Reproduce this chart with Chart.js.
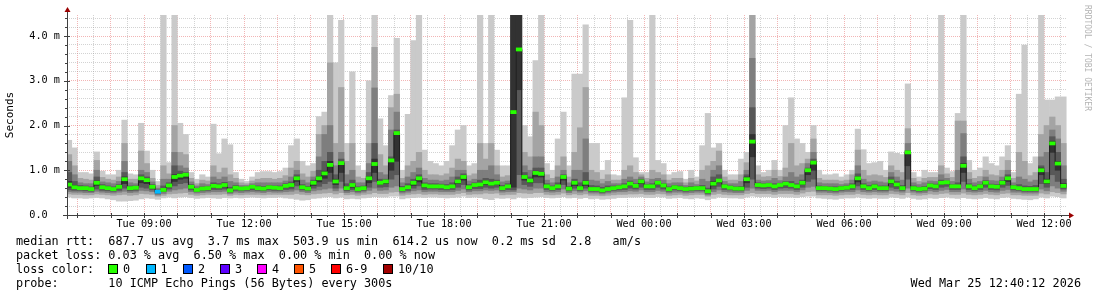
<!DOCTYPE html>
<html><head><meta charset="utf-8">
<script src="https://cdn.jsdelivr.net/npm/chart.js@4.4.1/dist/chart.umd.min.js"></script>
<style>
html,body{margin:0;padding:0;background:#fff;}
#wrap{position:relative;width:1097px;height:297px;overflow:hidden;background:#fff;}
#c{position:absolute;left:0;top:0;}
.lg{position:absolute;font-family:'DejaVu Sans Mono',monospace;font-size:11.8px;line-height:14px;white-space:pre;color:#000;}
.box{position:absolute;width:8px;height:8px;border:1px solid #000;top:264px;}
</style>
</head><body>
<div id="wrap">
<canvas id="c" width="1097" height="297"></canvas>
</div>
<script>
// time grid: first step centred at Tue 06:45, 10-minute steps (hours since Tue 00:00)
const t0 = 6.75;
const stepH = 1/6;

// median RTT (ms)
const median = [
0.68,0.62,0.60,0.60,0.58,0.72,0.62,0.60,0.58,0.63,
0.80,0.60,0.61,0.82,0.78,0.63,0.52,0.56,0.66,0.85,
0.88,0.90,0.63,0.56,0.59,0.60,0.65,0.64,0.67,0.55,
0.61,0.59,0.60,0.63,0.60,0.59,0.62,0.61,0.60,0.65,
0.67,0.82,0.62,0.59,0.72,0.82,0.93,1.12,0.75,1.16,
0.60,0.67,0.58,0.60,0.82,1.14,0.72,0.75,1.22,1.83,
0.58,0.62,0.72,0.82,0.66,0.64,0.64,0.64,0.62,0.64,
0.75,0.85,0.62,0.67,0.68,0.73,0.70,0.72,0.60,0.64,
2.30,3.70,0.85,0.77,0.94,0.92,0.64,0.60,0.64,0.85,
0.59,0.72,0.60,0.72,0.58,0.58,0.55,0.58,0.60,0.62,
0.64,0.70,0.65,0.75,0.64,0.64,0.72,0.66,0.58,0.62,
0.60,0.58,0.59,0.60,0.60,0.53,0.70,0.77,0.64,0.61,
0.59,0.59,0.80,1.64,0.67,0.66,0.67,0.64,0.67,0.70,
0.67,0.64,0.72,1.00,1.17,0.60,0.60,0.59,0.58,0.60,
0.61,0.64,0.82,0.64,0.60,0.64,0.60,0.60,0.75,0.68,
0.60,1.40,0.60,0.58,0.59,0.66,0.64,0.72,0.73,0.64,
0.64,1.10,0.64,0.60,0.64,0.72,0.64,0.63,0.72,0.82,
0.62,0.60,0.58,0.58,0.58,1.00,0.75,1.60,1.15,0.65];

// sorted pings per step (ms): ping10 = slowest ... ping1 = fastest
const ping10 = [
1.67,1.50,0.95,0.95,0.92,1.41,0.98,0.90,0.90,1.00,
2.12,0.92,0.90,2.05,1.43,1.00,0.75,4.60,1.17,4.60,
2.05,1.80,0.95,0.80,0.90,0.85,2.03,1.37,1.70,1.57,
0.95,0.80,0.75,0.85,0.95,0.97,0.97,0.95,0.97,1.05,
1.55,1.70,1.20,1.10,1.15,2.20,2.30,4.60,3.40,4.35,
1.60,3.20,1.10,1.00,3.00,4.60,2.15,1.55,2.67,3.95,
1.00,2.25,3.90,4.60,1.45,1.20,1.15,1.10,1.20,1.55,
1.90,2.00,1.10,1.15,4.60,1.60,4.60,1.45,1.10,1.10,
4.60,4.60,2.00,1.75,3.45,4.60,1.15,1.00,1.70,2.30,
1.10,3.15,3.15,4.25,1.60,1.60,1.00,1.22,0.90,0.88,
2.62,4.35,1.28,0.95,0.95,4.60,1.22,1.15,0.90,0.95,
0.97,0.80,1.00,0.85,1.55,2.27,1.50,1.60,1.00,0.90,
0.90,1.25,1.40,4.60,1.10,0.95,1.00,1.22,1.00,2.00,
2.62,1.70,1.60,1.40,2.00,1.00,0.90,0.90,0.92,0.85,
0.90,1.00,1.92,1.46,1.15,1.17,1.20,1.00,1.41,1.38,
1.35,2.93,0.95,0.85,1.00,0.95,0.95,4.60,1.05,0.97,
2.27,4.60,1.22,1.00,1.05,1.30,1.15,1.10,1.30,1.55,
0.95,2.70,3.80,1.15,1.30,4.60,2.57,2.57,2.64,2.64];
const ping9 = [
1.35,1.10,0.82,0.80,0.78,1.22,0.84,0.80,0.78,0.85,
1.60,0.80,0.80,1.43,1.15,0.82,0.66,1.10,0.92,2.00,
1.40,1.35,0.82,0.70,0.78,0.76,1.10,0.95,1.05,0.90,
0.82,0.72,0.70,0.76,0.80,0.82,0.82,0.80,0.82,0.88,
1.05,1.20,0.92,0.85,0.98,1.80,2.00,3.40,1.60,2.85,
1.20,1.60,0.85,0.82,1.60,3.75,1.35,1.10,2.40,2.70,
0.82,1.10,1.20,1.40,1.00,0.90,0.90,0.88,0.92,1.05,
1.25,1.20,0.88,0.92,1.60,1.25,1.60,1.10,0.85,0.88,
4.60,4.60,1.40,1.30,2.30,2.00,0.90,0.82,1.10,1.30,
0.85,1.40,1.95,2.85,1.00,0.95,0.80,0.90,0.78,0.78,
1.00,1.10,0.95,0.90,0.82,1.00,0.95,0.90,0.78,0.82,
0.82,0.72,0.82,0.76,1.00,1.10,1.20,1.43,0.85,0.78,
0.78,0.90,1.17,4.60,0.90,0.85,0.86,1.00,0.86,1.05,
1.60,1.10,1.15,1.25,1.70,0.82,0.78,0.78,0.78,0.76,
0.78,0.90,1.45,1.00,0.88,0.90,0.88,0.84,1.10,1.00,
0.95,1.93,0.82,0.75,0.82,0.84,0.84,1.10,0.92,0.84,
2.10,2.10,0.95,0.82,0.86,1.00,0.90,0.88,1.00,1.22,
0.82,1.40,1.20,0.88,0.95,1.80,2.00,2.19,2.00,1.60];
const ping8 = [
1.20,0.90,0.72,0.70,0.70,1.00,0.74,0.72,0.70,0.75,
1.20,0.72,0.70,1.00,0.95,0.74,0.60,0.80,0.80,1.40,
1.10,1.05,0.74,0.65,0.70,0.68,0.85,0.80,0.85,0.75,
0.72,0.66,0.66,0.70,0.72,0.72,0.72,0.72,0.72,0.76,
0.85,1.00,0.78,0.72,0.85,1.30,1.80,2.00,1.10,1.40,
0.90,1.00,0.72,0.72,1.15,2.84,0.95,0.90,1.90,2.30,
0.72,0.85,0.95,1.05,0.82,0.78,0.78,0.76,0.78,0.85,
1.00,1.00,0.76,0.80,1.00,1.00,1.10,0.90,0.74,0.76,
4.60,4.60,1.10,1.00,1.30,1.30,0.78,0.72,0.85,1.00,
0.72,1.00,1.00,1.70,0.78,0.76,0.70,0.75,0.70,0.70,
0.80,0.85,0.80,0.85,0.74,0.80,0.82,0.78,0.70,0.72,
0.72,0.66,0.72,0.68,0.80,0.75,1.00,1.10,0.75,0.70,
0.70,0.75,1.00,3.50,0.78,0.76,0.77,0.82,0.77,0.85,
0.95,0.85,0.90,1.15,1.40,0.72,0.70,0.70,0.70,0.68,
0.70,0.78,1.10,0.80,0.74,0.76,0.74,0.72,0.95,0.85,
0.78,1.60,0.72,0.68,0.72,0.76,0.75,0.90,0.82,0.75,
1.00,1.82,0.80,0.72,0.75,0.85,0.77,0.76,0.85,1.00,
0.72,0.85,0.80,0.74,0.78,1.30,1.40,1.90,1.70,1.10];
const ping7 = [
0.95,0.75,0.66,0.65,0.63,0.85,0.68,0.65,0.63,0.68,
0.95,0.65,0.65,0.90,0.85,0.68,0.56,0.65,0.72,1.10,
0.98,0.95,0.68,0.60,0.63,0.63,0.72,0.70,0.73,0.62,
0.66,0.62,0.62,0.66,0.65,0.64,0.66,0.65,0.65,0.70,
0.74,0.90,0.68,0.64,0.78,1.00,1.20,1.40,0.90,1.25,
0.70,0.78,0.63,0.65,0.95,1.60,0.80,0.80,1.30,1.90,
0.64,0.70,0.80,0.90,0.72,0.70,0.70,0.69,0.68,0.72,
0.85,0.92,0.68,0.72,0.78,0.82,0.80,0.78,0.66,0.70,
4.60,4.60,0.95,0.85,1.05,1.05,0.70,0.65,0.72,0.90,
0.64,0.80,0.72,0.95,0.66,0.65,0.62,0.65,0.65,0.66,
0.70,0.76,0.70,0.80,0.68,0.70,0.76,0.70,0.63,0.66,
0.65,0.62,0.64,0.64,0.66,0.60,0.85,0.90,0.68,0.65,
0.63,0.64,0.90,2.40,0.72,0.70,0.71,0.70,0.71,0.75,
0.75,0.70,0.78,1.05,1.25,0.65,0.64,0.63,0.63,0.64,
0.65,0.70,0.92,0.70,0.66,0.69,0.65,0.65,0.85,0.75,
0.66,1.44,0.65,0.62,0.64,0.70,0.69,0.78,0.76,0.68,
0.72,1.30,0.70,0.65,0.68,0.77,0.69,0.68,0.77,0.90,
0.66,0.68,0.65,0.64,0.66,1.10,0.95,1.75,1.40,0.80];
const ping6 = [
0.75,0.66,0.62,0.62,0.60,0.76,0.64,0.62,0.60,0.65,
0.85,0.62,0.63,0.85,0.80,0.65,0.54,0.58,0.68,0.90,
0.92,0.92,0.65,0.58,0.61,0.62,0.67,0.66,0.69,0.57,
0.63,0.60,0.61,0.64,0.62,0.61,0.63,0.62,0.62,0.67,
0.69,0.85,0.64,0.61,0.74,0.86,0.98,1.20,0.80,1.18,
0.63,0.70,0.60,0.62,0.86,1.25,0.75,0.77,1.25,1.85,
0.60,0.64,0.75,0.85,0.68,0.66,0.66,0.66,0.64,0.66,
0.78,0.88,0.64,0.69,0.70,0.76,0.72,0.74,0.62,0.66,
4.60,4.60,0.88,0.80,0.98,0.95,0.66,0.62,0.66,0.87,
0.61,0.75,0.63,0.76,0.60,0.60,0.57,0.60,0.62,0.63,
0.66,0.72,0.67,0.77,0.66,0.66,0.74,0.68,0.60,0.64,
0.62,0.60,0.61,0.62,0.62,0.55,0.75,0.80,0.66,0.63,
0.61,0.61,0.85,1.80,0.69,0.68,0.69,0.66,0.69,0.72,
0.69,0.66,0.74,1.02,1.20,0.62,0.62,0.61,0.60,0.62,
0.63,0.66,0.86,0.66,0.62,0.66,0.62,0.62,0.78,0.70,
0.62,1.42,0.62,0.60,0.61,0.68,0.66,0.74,0.75,0.66,
0.66,1.15,0.66,0.62,0.66,0.74,0.66,0.65,0.74,0.85,
0.64,0.62,0.60,0.60,0.60,1.05,0.80,1.65,1.20,0.70];
const ping5 = [
0.62,0.59,0.58,0.58,0.56,0.66,0.60,0.58,0.56,0.60,
0.70,0.58,0.59,0.72,0.70,0.60,0.50,0.54,0.63,0.75,
0.80,0.82,0.60,0.54,0.57,0.58,0.62,0.61,0.63,0.53,
0.59,0.57,0.58,0.60,0.58,0.57,0.60,0.59,0.58,0.62,
0.63,0.75,0.60,0.57,0.66,0.74,0.82,0.95,0.68,0.95,
0.57,0.62,0.56,0.58,0.72,0.95,0.68,0.70,1.00,1.20,
0.56,0.59,0.66,0.74,0.62,0.62,0.62,0.61,0.60,0.61,
0.70,0.78,0.60,0.64,0.64,0.68,0.66,0.68,0.58,0.61,
0.62,2.80,0.78,0.72,0.85,0.85,0.61,0.58,0.61,0.78,
0.57,0.66,0.58,0.66,0.56,0.56,0.53,0.56,0.58,0.60,
0.61,0.66,0.62,0.70,0.61,0.61,0.68,0.63,0.56,0.60,
0.58,0.56,0.57,0.58,0.58,0.51,0.65,0.72,0.61,0.59,
0.57,0.57,0.72,1.30,0.64,0.63,0.64,0.61,0.64,0.66,
0.64,0.61,0.68,0.90,1.00,0.58,0.58,0.57,0.56,0.58,
0.59,0.61,0.74,0.61,0.58,0.61,0.58,0.58,0.70,0.64,
0.58,1.10,0.58,0.56,0.57,0.63,0.61,0.68,0.70,0.61,
0.61,0.95,0.61,0.58,0.61,0.68,0.61,0.60,0.68,0.75,
0.60,0.58,0.56,0.56,0.56,0.90,0.70,1.40,1.00,0.62];
const ping4 = [
0.56,0.55,0.55,0.54,0.53,0.58,0.55,0.54,0.53,0.55,
0.60,0.54,0.55,0.62,0.60,0.56,0.48,0.52,0.58,0.65,
0.70,0.72,0.56,0.52,0.54,0.55,0.57,0.57,0.58,0.51,
0.55,0.54,0.55,0.56,0.55,0.54,0.56,0.55,0.55,0.57,
0.58,0.65,0.56,0.54,0.60,0.64,0.70,0.75,0.60,0.75,
0.54,0.57,0.53,0.55,0.62,0.75,0.62,0.63,0.80,0.90,
0.53,0.55,0.60,0.65,0.57,0.58,0.58,0.57,0.56,0.57,
0.62,0.68,0.56,0.59,0.59,0.62,0.60,0.62,0.55,0.57,
0.56,0.90,0.68,0.64,0.72,0.72,0.57,0.55,0.57,0.68,
0.54,0.60,0.55,0.60,0.53,0.53,0.50,0.53,0.55,0.56,
0.57,0.60,0.58,0.62,0.57,0.57,0.62,0.58,0.53,0.56,
0.55,0.53,0.54,0.55,0.55,0.48,0.58,0.64,0.57,0.56,
0.54,0.54,0.62,0.80,0.60,0.59,0.60,0.57,0.60,0.61,
0.60,0.57,0.62,0.75,0.80,0.55,0.55,0.54,0.53,0.55,
0.56,0.57,0.65,0.57,0.55,0.57,0.55,0.55,0.62,0.59,
0.55,0.80,0.55,0.53,0.54,0.59,0.57,0.62,0.64,0.57,
0.57,0.75,0.57,0.55,0.57,0.62,0.57,0.56,0.62,0.66,
0.56,0.55,0.53,0.53,0.53,0.70,0.62,0.90,0.75,0.58];
const ping3 = [
0.52,0.51,0.51,0.50,0.50,0.53,0.51,0.50,0.49,0.51,
0.53,0.50,0.51,0.55,0.54,0.52,0.45,0.48,0.53,0.56,
0.58,0.60,0.52,0.49,0.50,0.51,0.52,0.52,0.53,0.48,
0.51,0.50,0.51,0.52,0.51,0.50,0.52,0.51,0.51,0.52,
0.53,0.56,0.52,0.50,0.54,0.56,0.58,0.60,0.54,0.60,
0.50,0.52,0.49,0.51,0.55,0.60,0.55,0.56,0.62,0.65,
0.49,0.51,0.54,0.56,0.52,0.53,0.53,0.52,0.52,0.52,
0.55,0.58,0.52,0.54,0.54,0.56,0.55,0.56,0.51,0.52,
0.52,0.60,0.58,0.56,0.60,0.60,0.52,0.51,0.52,0.58,
0.50,0.54,0.51,0.54,0.49,0.49,0.47,0.49,0.51,0.52,
0.52,0.54,0.53,0.56,0.52,0.52,0.55,0.53,0.49,0.51,
0.51,0.49,0.50,0.51,0.51,0.45,0.52,0.56,0.52,0.51,
0.50,0.50,0.55,0.60,0.55,0.54,0.55,0.52,0.55,0.55,
0.55,0.52,0.56,0.62,0.64,0.51,0.51,0.50,0.49,0.51,
0.52,0.52,0.56,0.52,0.51,0.52,0.51,0.51,0.55,0.53,
0.51,0.60,0.51,0.49,0.50,0.54,0.52,0.55,0.57,0.52,
0.52,0.58,0.52,0.51,0.52,0.55,0.52,0.51,0.55,0.57,
0.51,0.51,0.49,0.49,0.49,0.58,0.54,0.65,0.60,0.53];
const ping2 = [
0.47,0.46,0.46,0.45,0.45,0.47,0.46,0.45,0.44,0.45,
0.46,0.44,0.45,0.48,0.47,0.46,0.42,0.44,0.47,0.48,
0.49,0.50,0.46,0.44,0.45,0.46,0.46,0.46,0.47,0.44,
0.46,0.45,0.46,0.46,0.46,0.45,0.46,0.46,0.46,0.46,
0.46,0.48,0.46,0.45,0.47,0.48,0.49,0.50,0.47,0.50,
0.45,0.46,0.44,0.46,0.47,0.50,0.48,0.48,0.51,0.52,
0.44,0.46,0.47,0.48,0.46,0.47,0.47,0.46,0.46,0.46,
0.48,0.50,0.46,0.47,0.47,0.49,0.48,0.49,0.45,0.46,
0.46,0.50,0.49,0.48,0.50,0.50,0.46,0.45,0.46,0.49,
0.45,0.47,0.45,0.47,0.44,0.44,0.43,0.44,0.45,0.46,
0.46,0.47,0.47,0.48,0.46,0.46,0.48,0.47,0.44,0.45,
0.46,0.44,0.45,0.46,0.46,0.42,0.46,0.48,0.46,0.45,
0.45,0.45,0.48,0.50,0.48,0.48,0.48,0.46,0.48,0.48,
0.48,0.46,0.49,0.52,0.53,0.45,0.45,0.45,0.44,0.45,
0.46,0.46,0.48,0.46,0.45,0.46,0.45,0.45,0.48,0.47,
0.45,0.50,0.45,0.44,0.45,0.47,0.46,0.48,0.49,0.46,
0.46,0.49,0.46,0.45,0.46,0.48,0.46,0.45,0.48,0.49,
0.45,0.45,0.44,0.44,0.44,0.49,0.47,0.52,0.50,0.47];
const ping1 = [
0.40,0.38,0.38,0.37,0.38,0.39,0.38,0.36,0.34,0.31,
0.31,0.32,0.33,0.36,0.38,0.37,0.35,0.38,0.40,0.38,
0.40,0.41,0.39,0.37,0.38,0.39,0.38,0.37,0.39,0.38,
0.39,0.38,0.39,0.40,0.39,0.38,0.39,0.39,0.40,0.38,
0.37,0.35,0.33,0.34,0.37,0.38,0.40,0.41,0.38,0.40,
0.36,0.37,0.36,0.38,0.39,0.41,0.40,0.40,0.42,0.42,
0.36,0.38,0.39,0.40,0.39,0.40,0.40,0.39,0.38,0.39,
0.40,0.42,0.39,0.40,0.39,0.36,0.34,0.38,0.37,0.38,
0.36,0.40,0.38,0.39,0.40,0.41,0.39,0.38,0.39,0.41,
0.38,0.39,0.37,0.39,0.36,0.37,0.35,0.36,0.37,0.39,
0.39,0.40,0.40,0.41,0.39,0.39,0.41,0.40,0.37,0.38,
0.39,0.37,0.36,0.38,0.37,0.34,0.37,0.40,0.39,0.38,
0.38,0.37,0.40,0.42,0.41,0.41,0.41,0.39,0.41,0.40,
0.40,0.39,0.41,0.42,0.42,0.38,0.37,0.36,0.35,0.37,
0.38,0.38,0.40,0.38,0.37,0.38,0.37,0.37,0.40,0.39,
0.37,0.40,0.37,0.35,0.36,0.38,0.37,0.39,0.40,0.38,
0.37,0.39,0.37,0.36,0.37,0.39,0.37,0.36,0.39,0.40,
0.37,0.36,0.35,0.34,0.36,0.40,0.38,0.42,0.41,0.38];

// lost pings per step (of 10)
const lossCount = [
0,0,0,0,0,0,0,0,0,0, 0,0,0,0,0,0,1,0,0,0,
0,0,0,0,0,0,0,0,0,0, 0,0,0,0,0,0,0,0,0,0,
0,0,0,0,0,0,0,0,0,0, 0,0,0,0,0,0,0,0,0,0,
0,0,0,0,0,0,0,0,0,0, 0,0,0,0,0,0,0,0,0,0,
0,0,0,0,0,0,0,0,0,0, 0,0,0,0,0,0,0,0,0,0,
0,0,0,0,0,0,0,0,0,0, 0,0,0,0,0,0,0,0,0,0,
0,0,0,0,0,0,0,0,0,0, 0,0,0,0,0,0,0,0,0,0,
0,0,0,0,0,0,0,0,0,0, 0,0,0,0,0,0,0,0,0,0,
0,0,0,0,0,0,0,0,0,0, 0,0,0,0,0,0,0,0,0,0];

const xTickHours = [9,12,15,18,21,24,27,30,33,36];
const xTickLabels = ['Tue 09:00','Tue 12:00','Tue 15:00','Tue 18:00','Tue 21:00','Wed 00:00','Wed 03:00','Wed 06:00','Wed 09:00','Wed 12:00'];
const yTickValues = [0,1,2,3,4];
const yTickLabels = ['0.0  ','1.0 m','2.0 m','3.0 m','4.0 m'];

const lossLegendLabels = ['0','1','2','3','4','5','6-9','10/10'];
const lossLegendColors = ['#26ff00','#00b8ff','#0059ff','#5e00ff','#ff00ff','#ff5500','#ff0000','#a10000'];
const lossLegendX = [108,145.5,183,220,257,294,331,383];
const smokeColors = ['#cacaca','#a4a4a4','#7e7e7e','#585858','#323232'];

const legendLines = [
  'median rtt:  687.7 us avg  3.7 ms max  503.9 us min  614.2 us now  0.2 ms sd  2.8   am/s',
  'packet loss: 0.03 % avg  6.50 % max  0.00 % min  0.00 % now',
  'loss color:',
  'probe:       10 ICMP Echo Pings (56 Bytes) every 300s'
];
const stampText = 'Wed Mar 25 12:40:12 2026';

// ---------- legend (HTML text) ----------
const wrap = document.getElementById('wrap');
legendLines.forEach((s, k) => {
  const d = document.createElement('div');
  d.className = 'lg'; d.style.left = '16px'; d.style.top = (234 + 14*k) + 'px';
  d.textContent = s; wrap.appendChild(d);
});
lossLegendLabels.forEach((s, k) => {
  const b = document.createElement('div');
  b.className = 'box'; b.style.left = lossLegendX[k] + 'px'; b.style.background = lossLegendColors[k];
  wrap.appendChild(b);
  const d = document.createElement('div');
  d.className = 'lg'; d.style.left = (lossLegendX[k] + 15) + 'px'; d.style.top = '262px';
  d.textContent = s; wrap.appendChild(d);
});
const st = document.createElement('div');
st.className = 'lg'; st.style.right = '16px'; st.style.top = '276px'; st.textContent = stampText;
wrap.appendChild(st);

// ---------- chart ----------
const times = median.map((_, i) => t0 + i * stepH);
const bands = [[ping1, ping10], [ping2, ping9], [ping3, ping8], [ping4, ping7], [ping5, ping6]];
const markH = 0.035;
const isWhole = v => Math.abs(v - Math.round(v)) < 1e-6;

const datasets = [];
bands.forEach(([lo, hi], k) => {
  datasets.push({
    type: 'bar', order: 10 - k,
    data: lo.map((v, i) => ({x: times[i], y: [v, hi[i]]})),
    backgroundColor: smokeColors[k], borderWidth: 0,
    barPercentage: 1, categoryPercentage: 1, grouped: false
  });
});
datasets.push({
  type: 'line', order: 2,
  data: median.map((v, i) => ({x: times[i], y: v})),
  borderColor: '#202020', borderWidth: 1, stepped: 'middle',
  pointRadius: 0, fill: false
});
datasets.push({
  type: 'bar', order: 1,
  data: median.map((v, i) => ({x: times[i], y: [v - markH, v + markH]})),
  backgroundColor: median.map((v, i) => lossLegendColors[lossCount[i]]),
  borderWidth: 0, barPercentage: 1, categoryPercentage: 1, grouped: false
});

const decor = {
  id: 'decor',
  afterDraw(chart) {
    const ctx = chart.ctx, a = chart.chartArea, xs = chart.scales.x, ys = chart.scales.y;
    ctx.save();
    ctx.strokeStyle = '#404040'; ctx.lineWidth = 1;
    ctx.beginPath();
    ys.ticks.forEach(t => {
      const y = Math.round(ys.getPixelForValue(t.value)) + 0.5;
      if (isWhole(t.value)) { ctx.moveTo(a.left - 3, y); ctx.lineTo(a.left + 3, y); }
      else { ctx.moveTo(a.left - 2, y); ctx.lineTo(a.left, y); }
    });
    xs.ticks.forEach(t => {
      const x = Math.round(xs.getPixelForValue(t.value)) + 0.5;
      if (isWhole(t.value)) { ctx.moveTo(x, a.bottom - 2); ctx.lineTo(x, a.bottom + 3); }
      else { ctx.moveTo(x, a.bottom); ctx.lineTo(x, a.bottom + 2); }
    });
    const ax = Math.round(a.left) + 0.5, ay = Math.round(a.bottom) + 0.5;
    ctx.moveTo(ax, a.bottom + 4); ctx.lineTo(ax, a.top - 3);
    ctx.moveTo(a.left - 4, ay); ctx.lineTo(a.right + 2, ay);
    ctx.stroke();
    ctx.fillStyle = '#9a0000';
    ctx.beginPath(); ctx.moveTo(ax, a.top - 8); ctx.lineTo(ax - 3, a.top - 3); ctx.lineTo(ax + 3, a.top - 3); ctx.closePath(); ctx.fill();
    ctx.beginPath(); ctx.moveTo(a.right + 7, ay); ctx.lineTo(a.right + 2, ay - 3); ctx.lineTo(a.right + 2, ay + 3); ctx.closePath(); ctx.fill();
    // watermark
    ctx.translate(1087, 5); ctx.rotate(Math.PI / 2);
    ctx.fillStyle = '#b4b4b4'; ctx.font = '8px "DejaVu Sans Mono", monospace';
    ctx.textBaseline = 'middle'; ctx.textAlign = 'left';
    ctx.fillText('RRDTOOL / TOBI OETIKER', 0, 0);
    ctx.restore();
  }
};

const minorGrid = 'rgba(150,150,150,0.42)';
const majorGrid = 'rgba(226,90,90,0.45)';

new Chart(document.getElementById('c'), {
  type: 'bar',
  data: {datasets},
  plugins: [decor],
  options: {
    responsive: false, animation: false, devicePixelRatio: 1,
    layout: {padding: {top: 15, right: 30, left: 0, bottom: 0}},
    plugins: {legend: {display: false}, tooltip: {enabled: false}},
    scales: {
      x: {
        type: 'linear', min: 6.69, max: 36.69, offset: false,
        afterBuildTicks: s => { const arr = []; for (let h = 7; h <= 36.5; h += 0.5) arr.push({value: h}); s.ticks = arr; },
        afterFit: s => { s.height = 82; },
        grid: {offset: false, drawTicks: false, lineWidth: 1,
          color: c => (c.tick && isWhole(c.tick.value)) ? majorGrid : minorGrid},
        border: {display: false, dash: [1, 1]},
        ticks: {autoSkip: false, maxRotation: 0, minRotation: 0, padding: 3, color: '#000',
          font: {family: '"DejaVu Sans Mono", monospace', size: 10.2},
          callback: v => { const k = xTickHours.findIndex(h => Math.abs(h - v) < 1e-6); return k >= 0 ? xTickLabels[k] : ''; }}
      },
      y: {
        type: 'linear', min: 0, max: 4.47,
        afterFit: s => { s.width = 67; },
        grid: {drawTicks: false, lineWidth: 1,
          color: c => (c.tick && isWhole(c.tick.value)) ? majorGrid : minorGrid},
        border: {display: false, dash: [1, 1]},
        title: {display: true, text: 'Seconds', color: '#000', padding: {top: 4, bottom: 0},
          font: {family: '"DejaVu Sans Mono", monospace', size: 11}},
        ticks: {stepSize: 0.2, includeBounds: false, autoSkip: false, padding: 7, color: '#000',
          font: {family: '"DejaVu Sans Mono", monospace', size: 10.2},
          callback: v => { const k = yTickValues.findIndex(h => Math.abs(h - v) < 1e-6); return k >= 0 ? yTickLabels[k] : ''; }}
      }
    }
  }
});
</script>
</body></html>
